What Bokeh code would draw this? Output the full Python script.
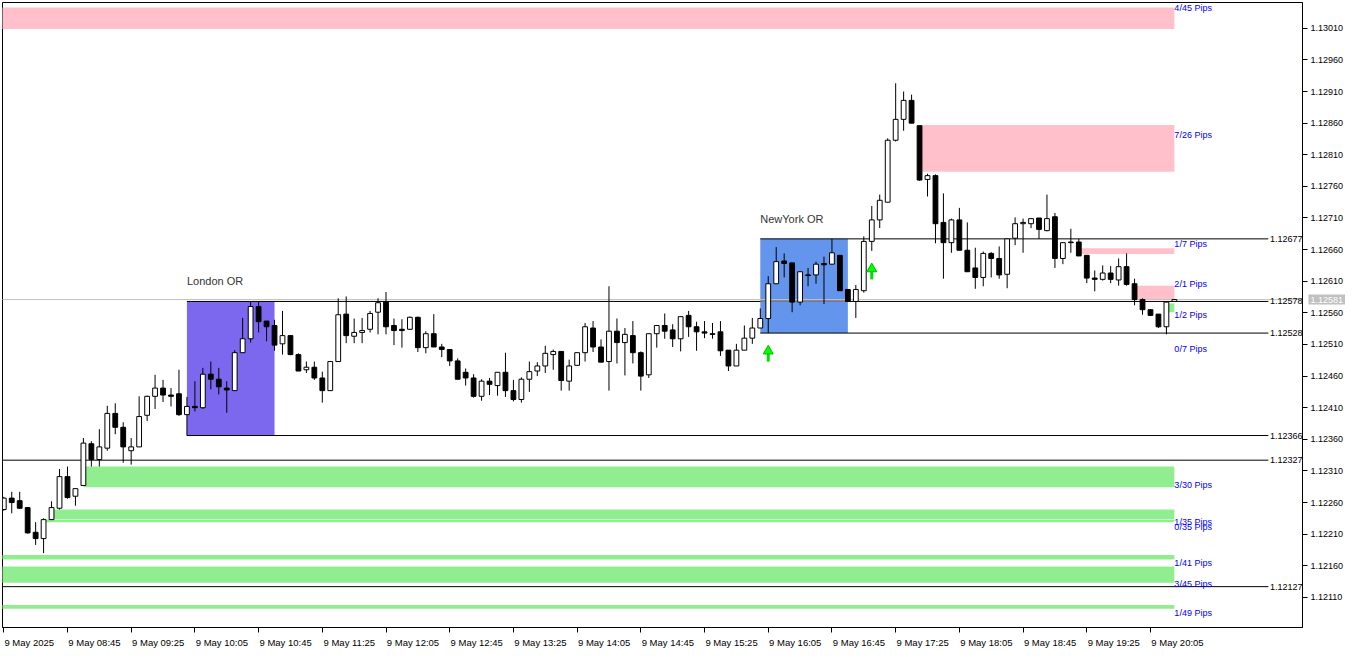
from bokeh.plotting import figure
from bokeh.models import Range1d, FixedTicker, PrintfTickFormatter
from bokeh.core.properties import value
from bokeh.embed import file_html
from bokeh.resources import INLINE

# ---------------- data ----------------
bar_index = list(range(148))

opens = [1.12249,1.12267,1.12263,1.12252,1.12213,1.12203,1.12233,1.12251,1.12301,1.12270,
1.12287,1.12353,1.12328,1.12346,1.12401,1.12379,1.12342,1.12348,1.12398,1.12428,
1.12441,1.12430,1.12432,1.12399,1.12412,1.12410,1.12463,1.12455,1.12441,1.12437,
1.12497,1.12519,1.12570,1.12547,1.12540,1.12511,1.12524,1.12494,1.12470,1.12474,
1.12457,1.12437,1.12483,1.12558,1.12523,1.12529,1.12534,1.12561,1.12577,1.12540,
1.12534,1.12534,1.12553,1.12505,1.12527,1.12506,1.12502,1.12484,1.12466,1.12457,
1.12428,1.12452,1.12445,1.12466,1.12437,1.12423,1.12455,1.12468,1.12476,1.12494,
1.12499,1.12452,1.12477,1.12497,1.12536,1.12506,1.12483,1.12531,1.12513,1.12524,
1.12497,1.12462,1.12527,1.12540,1.12533,1.12519,1.12556,1.12538,1.12530,1.12527,
1.12530,1.12501,1.12476,1.12501,1.12520,1.12536,1.12551,1.12606,1.12642,1.12639,
1.12577,1.12620,1.12620,1.12638,1.12637,1.12651,1.12597,1.12578,1.12595,1.12673,
1.12707,1.12735,1.12833,1.12866,1.12896,1.12856,1.12771,1.12777,1.12703,1.12671,
1.12707,1.12659,1.12631,1.12616,1.12654,1.12646,1.12621,1.12678,1.12701,1.12701,
1.12710,1.12690,1.12712,1.12646,1.12672,1.12672,1.12651,1.12615,1.12613,1.12623,
1.12612,1.12633,1.12606,1.12581,1.12565,1.12558,1.12538,1.12578]

highs = [1.12269,1.12277,1.12277,1.12253,1.12229,1.12235,1.12262,1.12313,1.12317,1.12282,
1.12362,1.12357,1.12376,1.12413,1.12417,1.12387,1.12362,1.12428,1.12429,1.12462,
1.12454,1.12441,1.12470,1.12427,1.12452,1.12473,1.12483,1.12473,1.12452,1.12501,
1.12552,1.12578,1.12578,1.12547,1.12549,1.12563,1.12524,1.12496,1.12483,1.12483,
1.12467,1.12484,1.12583,1.12586,1.12551,1.12552,1.12563,1.12583,1.12593,1.12551,
1.12550,1.12554,1.12554,1.12531,1.12558,1.12511,1.12502,1.12488,1.12472,1.12463,
1.12455,1.12457,1.12466,1.12497,1.12454,1.12458,1.12483,1.12482,1.12508,1.12502,
1.12499,1.12486,1.12497,1.12544,1.12547,1.12518,1.12602,1.12551,1.12536,1.12547,
1.12499,1.12527,1.12540,1.12559,1.12542,1.12554,1.12563,1.12546,1.12547,1.12544,
1.12547,1.12501,1.12511,1.12540,1.12552,1.12567,1.12618,1.12664,1.12654,1.12639,
1.12625,1.12631,1.12641,1.12649,1.12677,1.12651,1.12597,1.12604,1.12681,1.12729,
1.12747,1.12836,1.12923,1.12910,1.12905,1.12856,1.12780,1.12779,1.12749,1.12709,
1.12726,1.12703,1.12663,1.12657,1.12656,1.12665,1.12678,1.12711,1.12709,1.12709,
1.12710,1.12747,1.12718,1.12671,1.12693,1.12677,1.12651,1.12627,1.12635,1.12634,
1.12646,1.12654,1.12614,1.12583,1.12566,1.12558,1.12577,1.12581]

lows = [1.12247,1.12243,1.12250,1.12211,1.12193,1.12180,1.12233,1.12249,1.12266,1.12255,
1.12287,1.12317,1.12317,1.12342,1.12368,1.12323,1.12320,1.12348,1.12389,1.12408,
1.12419,1.12412,1.12397,1.12366,1.12404,1.12408,1.12439,1.12431,1.12402,1.12437,
1.12497,1.12513,1.12529,1.12515,1.12500,1.12494,1.12493,1.12468,1.12465,1.12454,
1.12418,1.12437,1.12483,1.12512,1.12512,1.12512,1.12529,1.12526,1.12526,1.12509,
1.12505,1.12533,1.12498,1.12496,1.12506,1.12490,1.12476,1.12455,1.12445,1.12426,
1.12421,1.12430,1.12429,1.12427,1.12420,1.12418,1.12435,1.12460,1.12465,1.12470,
1.12437,1.12437,1.12477,1.12483,1.12498,1.12482,1.12437,1.12480,1.12461,1.12480,
1.12437,1.12457,1.12505,1.12519,1.12506,1.12499,1.12522,1.12500,1.12520,1.12519,
1.12492,1.12468,1.12476,1.12501,1.12511,1.12536,1.12528,1.12606,1.12616,1.12561,
1.12572,1.12602,1.12606,1.12574,1.12637,1.12595,1.12577,1.12552,1.12592,1.12658,
1.12694,1.12735,1.12831,1.12848,1.12860,1.12769,1.12744,1.12670,1.12614,1.12655,
1.12659,1.12625,1.12598,1.12602,1.12616,1.12614,1.12599,1.12667,1.12655,1.12694,
1.12677,1.12689,1.12631,1.12637,1.12655,1.12650,1.12607,1.12594,1.12611,1.12607,
1.12603,1.12603,1.12572,1.12557,1.12555,1.12536,1.12526,1.12578]

closes = [1.12267,1.12260,1.12251,1.12212,1.12203,1.12233,1.12252,1.12301,1.12268,1.12282,
1.12354,1.12328,1.12348,1.12401,1.12379,1.12348,1.12348,1.12396,1.12428,1.12441,
1.12430,1.12428,1.12399,1.12412,1.12410,1.12463,1.12455,1.12443,1.12438,1.12497,
1.12519,1.12570,1.12546,1.12538,1.12509,1.12524,1.12494,1.12468,1.12474,1.12457,
1.12437,1.12483,1.12557,1.12524,1.12529,1.12532,1.12559,1.12576,1.12538,1.12532,
1.12532,1.12553,1.12505,1.12527,1.12506,1.12502,1.12484,1.12455,1.12457,1.12428,
1.12452,1.12447,1.12466,1.12437,1.12423,1.12455,1.12467,1.12476,1.12496,1.12499,
1.12453,1.12476,1.12497,1.12538,1.12506,1.12482,1.12531,1.12513,1.12526,1.12497,
1.12460,1.12527,1.12540,1.12531,1.12519,1.12554,1.12538,1.12530,1.12528,1.12526,
1.12500,1.12476,1.12501,1.12520,1.12536,1.12551,1.12606,1.12641,1.12638,1.12577,
1.12625,1.12619,1.12637,1.12636,1.12655,1.12595,1.12578,1.12597,1.12673,1.12707,
1.12738,1.12833,1.12866,1.12896,1.12860,1.12770,1.12777,1.12701,1.12671,1.12707,
1.12659,1.12625,1.12616,1.12654,1.12646,1.12620,1.12677,1.12701,1.12703,1.12709,
1.12692,1.12709,1.12646,1.12671,1.12671,1.12650,1.12615,1.12613,1.12623,1.12613,
1.12633,1.12605,1.12581,1.12565,1.12556,1.12538,1.12577,1.12581]

time_tick_index = [0, 8, 16, 24, 32, 40, 48, 56, 64, 72, 80, 88, 96, 104, 112, 120, 128, 136, 144]
time_tick_labels = ["9 May 2025", "9 May 08:45", "9 May 09:25", "9 May 10:05", "9 May 10:45",
                    "9 May 11:25", "9 May 12:05", "9 May 12:45", "9 May 13:25", "9 May 14:05",
                    "9 May 14:45", "9 May 15:25", "9 May 16:05", "9 May 16:45", "9 May 17:25",
                    "9 May 18:05", "9 May 18:45", "9 May 19:25", "9 May 20:05"]

price_ticks = [1.13010, 1.12960, 1.12910, 1.12860, 1.12810, 1.12760, 1.12710, 1.12660,
               1.12610, 1.12560, 1.12510, 1.12460, 1.12410, 1.12360, 1.12310, 1.12260,
               1.12210, 1.12160, 1.12110]

bid_price = 1.12581

# opening-range boxes
or_names = ["London OR", "NewYork OR"]
or_start = [23, 95]
or_end = [34, 106]
or_high = [1.12578, 1.12677]
or_low = [1.12366, 1.12528]

# horizontal levels
level_price = [1.12677, 1.12578, 1.12528, 1.12366, 1.12327, 1.12127]
level_start = [95, 23, 95, 23, -1, -1]
level_end = 158.8

# supply / demand zones
zone_labels = ["4/45 Pips", "7/26 Pips", "1/7 Pips", "2/1 Pips", "1/2 Pips", "0/7 Pips",
               "3/30 Pips", "1/35 Pips", "0/35 Pips", "1/41 Pips", "3/45 Pips", "1/49 Pips"]
zone_kind = ["supply", "supply", "supply", "supply", "demand", "demand",
             "demand", "demand", "demand", "demand", "demand", "demand"]
zone_start = [-1, 115, 135, 142, 146, 147, 10, 6, 5, -1, -1, -1]
zone_top = [1.13043, 1.12857, 1.12662, 1.12603, 1.12575, 1.12503, 1.12317, 1.12249, 1.12233, 1.12177, 1.12159, 1.12098]
zone_bottom = [1.13009, 1.12783, 1.12653, 1.12581, 1.12561, 1.12503, 1.12284, 1.12234, 1.12229, 1.12170, 1.12133, 1.12092]
zone_label_price = [1.13042, 1.12842, 1.12669, 1.12606, 1.12557, 1.12503, 1.12287, 1.12230, 1.12221, 1.12164, 1.12131, 1.12085]
zone_end = 147

# buy arrows
arrow_index = [96, 109]
arrow_price = [1.12494, 1.12624]

# ---------------- layout ----------------
X0, X1 = -0.16, 163.09
Y0, Y1 = 1.120624, 1.130508
FW, FH = 1300, 625
PPX = (Y1 - Y0) / FH
UPX = (X1 - X0) / FW
FONT = "Liberation Sans"

p = figure(frame_width=FW, frame_height=FH, x_range=Range1d(X0, X1), y_range=Range1d(Y0, Y1),
           y_axis_location="right", toolbar_location=None, output_backend="svg",
           min_border_left=2, min_border_top=2, min_border_right=0, min_border_bottom=0,
           background_fill_color="white", border_fill_color="white")
p.outline_line_color = "black"
p.outline_line_width = 1
p.grid.visible = False

# zones
zcol = ["#FFC0CB" if k == "supply" else "#90EE90" for k in zone_kind]
p.quad(left=zone_start, right=[zone_end] * len(zone_start), top=zone_top, bottom=zone_bottom,
       fill_color=zcol, line_color=None)

# OR boxes
p.quad(left=or_start, right=or_end, top=or_high, bottom=or_low,
       fill_color=["#7B68EE", "#6495ED"], line_color=None)

# bid line
p.segment(x0=[X0 - 1], y0=[bid_price], x1=[X1 + 1], y1=[bid_price], line_color="#C0C0C0", line_width=1)

# levels
p.segment(x0=level_start, y0=level_price, x1=[level_end] * len(level_price), y1=level_price,
          line_color="black", line_width=1)
# London high seen through the NY box
p.segment(x0=[or_start[1]], y0=[or_high[0]], x1=[or_end[1]], y1=[or_high[0]],
          line_color="#A07850", line_width=1)
p.text(x=[level_end + 0.2] * len(level_price), y=level_price, text=[f"{v:.5f}" for v in level_price],
       text_font=value(FONT), text_font_size="9px", text_color="black",
       text_align="left", text_baseline="middle")

# candles
body_top = [max(o, c) for o, c in zip(opens, closes)]
body_bot = [min(o, c) for o, c in zip(opens, closes)]
body_fill = ["white" if c >= o else "black" for o, c in zip(opens, closes)]
p.segment(x0=bar_index, y0=highs, x1=bar_index, y1=lows, line_color="black", line_width=1)
p.vbar(x=bar_index, width=0.6, top=body_top, bottom=body_bot, fill_color=body_fill,
       line_color="black", line_width=1)

# arrows
p.segment(x0=arrow_index, y0=[a - 7 * PPX for a in arrow_price], x1=arrow_index,
          y1=[a + 2 * PPX for a in arrow_price], line_color="#00DD00", line_width=3)
p.scatter(x=arrow_index, y=[a + 3.5 * PPX for a in arrow_price], marker="triangle", size=10,
          fill_color="#00FF00", line_color="#00BB00", line_width=1)

# OR labels
p.text(x=or_start, y=[h + 20 * PPX for h in or_high], text=or_names, text_font=value(FONT),
       text_font_size="11px", text_color="#333333", text_align="left", text_baseline="middle")

# zone labels
p.text(x=[zone_end] * len(zone_labels), y=zone_label_price, text=zone_labels, text_font=value(FONT),
       text_font_size="9px", text_color="#0000FF", text_align="left", text_baseline="middle")

# axes
p.yaxis.ticker = FixedTicker(ticks=price_ticks)
p.yaxis.formatter = PrintfTickFormatter(format="%.5f")
p.yaxis.major_tick_out = 5
p.yaxis.major_tick_in = 0
p.yaxis.minor_tick_line_color = None
p.yaxis.axis_line_color = "black"
p.yaxis.major_label_standoff = 3
p.yaxis.major_label_text_font = FONT
p.yaxis.major_label_text_font_size = "9px"
p.yaxis.major_label_text_color = "black"

label_pos = [round(t + (25.5 if k == 0 else 27.0) * UPX, 3) for k, t in enumerate(time_tick_index)]
p.xaxis.ticker = FixedTicker(ticks=label_pos, minor_ticks=time_tick_index)
p.xaxis.major_label_overrides = dict(zip(label_pos, time_tick_labels))
p.xaxis.major_tick_line_color = None
p.xaxis.major_tick_out = 0
p.xaxis.major_tick_in = 0
p.xaxis.minor_tick_in = 0
p.xaxis.minor_tick_out = 5
p.xaxis.minor_tick_line_color = "black"
p.xaxis.axis_line_color = "black"
p.xaxis.major_label_standoff = 4
p.xaxis.major_label_text_font = FONT
p.xaxis.major_label_text_font_size = "9.5px"
p.xaxis.major_label_text_color = "black"

# current price tag on the axis (a text glyph drawn at overlay level, outside the frame)
tag_kwargs = dict(x=[X1 + 6 * UPX], y=[bid_price], text=[f"{bid_price:.5f}"], text_font=value(FONT),
                  text_font_size="9px", text_color="white", text_align="left", text_baseline="middle",
                  level="overlay")
try:
    p.text(background_fill_color="#C0C0C0", padding=2, **tag_kwargs)
except Exception:
    p.text(**tag_kwargs)

open("out.html", "w").write(file_html(p, INLINE))
